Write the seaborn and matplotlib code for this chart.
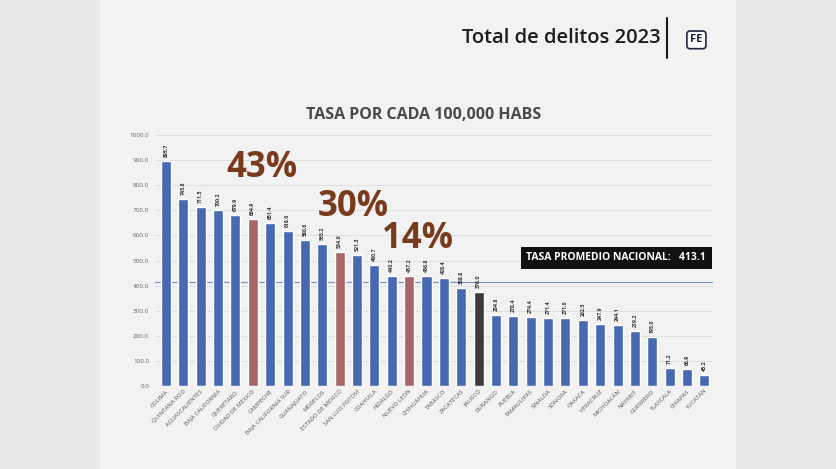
import matplotlib.pyplot as plt
import matplotlib.patches as mpatches
import numpy as np
import pandas as pd
import seaborn as sns

estados = [
    "COLIMA", "QUINTANA ROO", "AGUASCALIENTES", "BAJA CALIFORNIA", "QUERÉTARO",
    "CIUDAD DE MÉXICO", "CAMPECHE", "BAJA CALIFORNIA SUR", "GUANAJUATO", "MORELOS",
    "ESTADO DE MÉXICO", "SAN LUIS POTOSÍ", "COAHUILA", "HIDALGO", "NUEVO LEÓN",
    "CHIHUAHUA", "TABASCO", "ZACATECAS", "JALISCO", "DURANGO", "PUEBLA",
    "TAMAULIPAS", "SINALOA", "SONORA", "OAXACA", "VERACRUZ", "MICHOACÁN",
    "NAYARIT", "GUERRERO", "TLAXCALA", "CHIAPAS", "YUCATÁN",
]
tasas = [
    895.7, 745.8, 711.5, 700.2, 679.9, 664.9, 651.4, 618.0, 580.6, 565.2,
    534.0, 521.3, 480.7, 440.2, 437.2, 436.8, 428.4, 388.8, 376.0, 284.8,
    278.4, 274.4, 271.4, 271.0, 262.5, 247.9, 244.1, 219.2, 195.0, 71.2,
    66.9, 45.2,
]
resaltados = ["CIUDAD DE MÉXICO", "ESTADO DE MÉXICO", "NUEVO LEÓN"]
destacado = "JALISCO"
porcentajes = ["43%", "30%", "14%"]
promedio = 413.1

AZUL = "#3563c4"
ROJO = "#b25b5c"
NEGRO = "#3b3b3b"

df = pd.DataFrame({"estado": estados, "tasa": tasas})
colores = {}
for e in estados:
    if e in resaltados:
        colores[e] = ROJO
    elif e == destacado:
        colores[e] = NEGRO
    else:
        colores[e] = AZUL

sns.set_theme(style="white")
plt.rcParams["font.family"] = ["Open Sans", "DejaVu Sans"]

fig = plt.figure(figsize=(8.36, 4.69), dpi=100, facecolor="#e9e9e9")
# panel central más claro
fondo = fig.add_axes([0.12, 0.0, 0.76, 1.0], zorder=-1)
fondo.set_axis_off()
fondo.add_patch(mpatches.Rectangle((0, 0), 1, 1, facecolor="#f2f2f2", edgecolor="none"))

ax = fig.add_axes([0.185, 0.177, 0.668, 0.535], zorder=1)
ax.set_facecolor("none")
sns.barplot(data=df, x="estado", y="tasa", hue="estado", palette=colores,
            legend=False, width=0.58, ax=ax, zorder=3)

ax.set_ylim(0, 1000)
ax.set_xlim(-0.65, 31.5)
ax.set_yticks(np.arange(0, 1001, 100))
ax.set_yticklabels([f"{v:.1f}" for v in np.arange(0, 1001, 100)], fontsize=4.5, color="#666666")
ax.yaxis.grid(True, color="#dcdcdc", linewidth=0.6, zorder=0)
ax.tick_params(axis="y", length=0, pad=4)
ax.tick_params(axis="x", length=0, pad=2)
for s in ax.spines.values():
    s.set_visible(False)
ax.set_xlabel("")
ax.set_ylabel("")
ax.set_xticks(range(len(estados)))
ax.set_xticklabels(estados, rotation=45, ha="right", rotation_mode="anchor",
                   fontsize=4.3, color="#555555")

for i, v in enumerate(tasas):
    ax.text(i, v + 16, f"{v:.1f}", rotation=90, ha="center", va="bottom",
            fontsize=3.8, fontweight="bold", color="#333333", zorder=4)

ax.axhline(promedio, color="#6f8fd0", linewidth=0.8, zorder=2)

# porcentajes sobre las barras rojas (desplazamiento en unidades de datos)
desplaz = [(0.5, 205), (0.8, 178), (0.5, 150)]
pos = [estados.index(e) for e in resaltados]
for p, txt, (dx, dy) in zip(pos, porcentajes, desplaz):
    ax.text(p + dx, tasas[p] + dy, txt, ha="center", va="center", fontsize=25,
            fontweight="bold", color="#7a3a1c", zorder=5)

fig.text(0.737, 0.45, "TASA PROMEDIO NACIONAL:   413.1", ha="center", va="center",
         fontsize=7.5, fontweight="bold", color="white", zorder=6,
         bbox=dict(boxstyle="square,pad=0.55", facecolor="#111111", edgecolor="none"))

fig.text(0.507, 0.755, "TASA POR CADA 100,000 HABS", ha="center", va="center",
         fontsize=11.5, fontweight="bold", color="#4a4a4a")

fig.text(0.79, 0.918, "Total de delitos 2023", ha="right", va="center",
         fontsize=14.5, color="#1c1c1c", fontweight="semibold")
fig.add_artist(plt.Line2D([0.798, 0.798], [0.876, 0.962], transform=fig.transFigure,
                          color="#1c1c1c", linewidth=1.5))
fig.text(0.833, 0.915, "FE", ha="center", va="center", fontsize=8, fontweight="bold",
         color="#1c2340",
         bbox=dict(boxstyle="round,pad=0.3", facecolor="white", edgecolor="#1c2340", linewidth=1.2))

fig.savefig("out.png", dpi=100, facecolor=fig.get_facecolor())
